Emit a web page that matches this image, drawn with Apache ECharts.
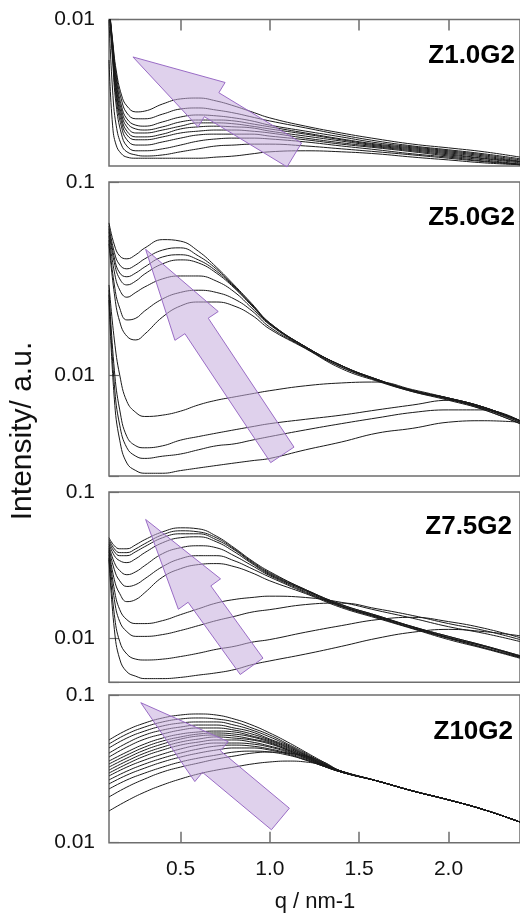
<!DOCTYPE html>
<html>
<head>
<meta charset="utf-8">
<script src="https://cdn.jsdelivr.net/npm/echarts@6/dist/echarts.min.js"></script>
<style>
  html, body { margin: 0; padding: 0; background: #fff; }
  #chart { width: 520px; height: 920px; }
</style>
</head>
<body>
<div id="chart"></div>
<script>
// q / nm-1 sampling for each panel
const qZ1 = [0.1, 0.12, 0.14, 0.17, 0.2, 0.25, 0.3, 0.4, 0.5, 0.6, 0.7, 0.8, 0.9, 1.0, 1.2, 1.4, 1.6, 1.8, 2.0, 2.2, 2.4];
const qZ5 = [0.1, 0.13, 0.16, 0.2, 0.25, 0.3, 0.4, 0.5, 0.6, 0.7, 0.8, 0.9, 1.0, 1.2, 1.4, 1.6, 1.8, 2.0, 2.2, 2.4];
const qZ75 = [0.1, 0.13, 0.16, 0.2, 0.25, 0.3, 0.4, 0.5, 0.6, 0.7, 0.8, 0.9, 1.0, 1.2, 1.4, 1.6, 1.8, 2.0, 2.2, 2.4];
const qZ10 = [0.1, 0.2, 0.3, 0.4, 0.5, 0.6, 0.7, 0.8, 0.9, 1.0, 1.1, 1.2, 1.3, 1.4, 1.6, 1.8, 2.0, 2.2, 2.4];

// Z1.0G2 intensities
const z1Curves = [
  [0.0126, 0.00724, 0.00452, 0.00305, 0.00257, 0.00234, 0.00237, 0.00265, 0.00287, 0.00291, 0.00278, 0.00257, 0.00234, 0.00213, 0.00187, 0.00168, 0.00153, 0.00141, 0.00133, 0.00125, 0.00115],
  [0.0126, 0.00702, 0.00425, 0.00282, 0.0023, 0.0021, 0.0021, 0.00226, 0.00245, 0.00249, 0.00241, 0.0023, 0.00216, 0.00203, 0.00182, 0.00163, 0.00148, 0.00137, 0.00129, 0.00121, 0.00112],
  [0.0126, 0.0068, 0.00399, 0.00257, 0.0021, 0.0019, 0.00187, 0.002, 0.00216, 0.00223, 0.0022, 0.00213, 0.00203, 0.0019, 0.00173, 0.00158, 0.00144, 0.00135, 0.00127, 0.00119, 0.0011],
  [0.0126, 0.00659, 0.00375, 0.00241, 0.00197, 0.00179, 0.00176, 0.00185, 0.002, 0.00206, 0.00206, 0.00203, 0.00194, 0.00185, 0.00168, 0.00153, 0.00141, 0.00133, 0.00125, 0.00117, 0.00108],
  [0.0126, 0.00639, 0.00352, 0.00226, 0.00185, 0.00168, 0.00168, 0.00176, 0.00187, 0.00197, 0.00197, 0.00194, 0.00187, 0.00179, 0.00165, 0.00151, 0.00139, 0.00131, 0.00123, 0.00115, 0.00107],
  [0.0126, 0.00619, 0.0033, 0.00213, 0.00173, 0.00158, 0.00158, 0.00165, 0.00179, 0.00185, 0.00187, 0.00185, 0.00182, 0.00173, 0.0016, 0.00148, 0.00137, 0.00129, 0.00121, 0.00113, 0.00107],
  [0.0126, 0.006, 0.0031, 0.002, 0.00163, 0.00151, 0.00151, 0.00158, 0.00168, 0.00173, 0.00176, 0.00176, 0.00173, 0.00168, 0.00155, 0.00144, 0.00135, 0.00127, 0.00119, 0.00112, 0.00105],
  [0.0126, 0.00572, 0.00291, 0.00185, 0.00151, 0.00139, 0.00139, 0.00146, 0.00155, 0.00163, 0.00165, 0.00165, 0.00165, 0.0016, 0.00151, 0.00141, 0.00133, 0.00125, 0.00117, 0.0011, 0.00103],
  [0.0126, 0.00529, 0.00261, 0.00165, 0.00137, 0.00127, 0.00127, 0.00131, 0.00139, 0.00148, 0.00153, 0.00155, 0.00155, 0.00153, 0.00146, 0.00137, 0.00129, 0.00121, 0.00115, 0.00108, 0.00103],
  [0.00992, 0.0033, 0.0019, 0.00139, 0.00125, 0.00119, 0.00117, 0.00119, 0.00125, 0.00131, 0.00137, 0.00139, 0.00141, 0.00141, 0.00137, 0.00131, 0.00125, 0.00119, 0.00113, 0.00107, 0.00102],
  [0.00529, 0.0019, 0.00139, 0.00121, 0.00115, 0.00113, 0.00113, 0.00113, 0.00113, 0.00113, 0.00115, 0.00117, 0.00121, 0.00125, 0.00127, 0.00125, 0.00121, 0.00115, 0.0011, 0.00105, 0.00102]
];

// Z5.0G2 intensities
const z5Curves = [
  [0.0614, 0.0472, 0.0414, 0.040, 0.042, 0.0455, 0.0503, 0.0494, 0.0438, 0.0363, 0.0293, 0.0234, 0.0186, 0.014, 0.0112, 0.0095, 0.0083, 0.0076, 0.0068, 0.0058],
  [0.0592, 0.0432, 0.0372, 0.0355, 0.0372, 0.040, 0.0444, 0.0456, 0.0414, 0.0355, 0.0289, 0.0231, 0.0186, 0.014, 0.0112, 0.0095, 0.0083, 0.0076, 0.0068, 0.0058],
  [0.0573, 0.0404, 0.0338, 0.0323, 0.0338, 0.0363, 0.0409, 0.042, 0.0395, 0.0346, 0.0286, 0.0231, 0.0184, 0.014, 0.0112, 0.0095, 0.0083, 0.0076, 0.0068, 0.0058],
  [0.0553, 0.0381, 0.0315, 0.0293, 0.0307, 0.0334, 0.0377, 0.0395, 0.0381, 0.0338, 0.0283, 0.0228, 0.0184, 0.014, 0.0112, 0.0094, 0.0083, 0.0075, 0.0067, 0.0057],
  [0.0527, 0.0342, 0.0276, 0.0253, 0.0268, 0.0286, 0.0315, 0.0326, 0.0326, 0.0307, 0.027, 0.0222, 0.0182, 0.0138, 0.011, 0.0094, 0.0083, 0.0075, 0.0067, 0.0057],
  [0.050, 0.0293, 0.0222, 0.0193, 0.0197, 0.0215, 0.0248, 0.0268, 0.0275, 0.0268, 0.0248, 0.0215, 0.0177, 0.0138, 0.011, 0.0094, 0.0082, 0.0075, 0.0066, 0.0056],
  [0.0478, 0.0264, 0.0189, 0.0159, 0.0152, 0.0163, 0.020, 0.0228, 0.0239, 0.0239, 0.0228, 0.0204, 0.0173, 0.0137, 0.0108, 0.0093, 0.0082, 0.0074, 0.0066, 0.0056],
  [0.0293, 0.0152, 0.010, 0.0073, 0.0064, 0.0061, 0.0062, 0.0065, 0.007, 0.0074, 0.0077, 0.008, 0.0083, 0.0088, 0.0091, 0.0092, 0.0084, 0.0076, 0.0068, 0.0058],
  [0.0276, 0.0106, 0.0066, 0.0048, 0.0043, 0.0042, 0.0043, 0.0046, 0.0048, 0.005, 0.0052, 0.0054, 0.0056, 0.0059, 0.0062, 0.0066, 0.007, 0.0074, 0.0067, 0.0058],
  [0.0261, 0.0089, 0.0055, 0.0042, 0.0038, 0.0037, 0.0038, 0.0039, 0.0041, 0.0043, 0.0044, 0.0046, 0.0048, 0.0052, 0.0056, 0.006, 0.0064, 0.0066, 0.0066, 0.0058],
  [0.0245, 0.0075, 0.0046, 0.0035, 0.0032, 0.0031, 0.0031, 0.0032, 0.0033, 0.0034, 0.0035, 0.0036, 0.0037, 0.0041, 0.0045, 0.005, 0.0053, 0.0057, 0.0058, 0.0057]
];

// Z7.5G2 intensities
const z75Curves = [
  [0.0487, 0.0429, 0.0409, 0.0409, 0.0436, 0.0472, 0.0534, 0.0569, 0.056, 0.05, 0.0416, 0.0339, 0.0285, 0.0215, 0.017, 0.0143, 0.012, 0.0103, 0.0089, 0.0076],
  [0.0472, 0.0409, 0.0385, 0.0385, 0.0409, 0.0443, 0.051, 0.0543, 0.0534, 0.0487, 0.0409, 0.0334, 0.028, 0.0215, 0.017, 0.0143, 0.012, 0.0103, 0.0089, 0.0076],
  [0.0457, 0.0391, 0.0367, 0.0367, 0.0391, 0.0423, 0.0487, 0.0518, 0.0518, 0.0472, 0.0403, 0.0329, 0.0276, 0.0212, 0.0167, 0.0141, 0.0119, 0.0101, 0.0088, 0.0075],
  [0.0443, 0.0367, 0.0339, 0.0329, 0.035, 0.0385, 0.045, 0.0487, 0.0494, 0.0457, 0.0391, 0.0324, 0.0272, 0.0212, 0.0167, 0.0141, 0.0119, 0.0101, 0.0088, 0.0075],
  [0.0429, 0.0329, 0.029, 0.0272, 0.0285, 0.0314, 0.0379, 0.0416, 0.0429, 0.0416, 0.0367, 0.0314, 0.0268, 0.0208, 0.0165, 0.0139, 0.0117, 0.01, 0.0086, 0.0074],
  [0.0416, 0.0294, 0.0247, 0.0226, 0.0233, 0.0255, 0.0309, 0.035, 0.0367, 0.0367, 0.0339, 0.0299, 0.0262, 0.0205, 0.0165, 0.0139, 0.0117, 0.01, 0.0086, 0.0074],
  [0.0403, 0.0251, 0.0202, 0.0178, 0.0184, 0.0205, 0.0262, 0.0299, 0.0319, 0.0324, 0.0309, 0.028, 0.0247, 0.0202, 0.0162, 0.0137, 0.0116, 0.0098, 0.0085, 0.0073],
  [0.0391, 0.0215, 0.0157, 0.0134, 0.0126, 0.0126, 0.0132, 0.0145, 0.0159, 0.0174, 0.0184, 0.019, 0.0194, 0.019, 0.0176, 0.0155, 0.0137, 0.012, 0.0108, 0.0095],
  [0.0373, 0.0184, 0.013, 0.0111, 0.0103, 0.0103, 0.0106, 0.0113, 0.0122, 0.0132, 0.0141, 0.0151, 0.0157, 0.017, 0.0174, 0.0159, 0.0143, 0.0126, 0.0113, 0.0098],
  [0.0355, 0.0145, 0.0095, 0.0078, 0.0072, 0.0071, 0.0072, 0.0075, 0.0079, 0.0084, 0.0088, 0.0094, 0.0098, 0.011, 0.0122, 0.0134, 0.0139, 0.013, 0.0117, 0.0101],
  [0.0345, 0.0115, 0.0072, 0.0059, 0.0055, 0.0053, 0.0053, 0.0054, 0.0056, 0.0058, 0.0061, 0.0066, 0.007, 0.0078, 0.0088, 0.01, 0.011, 0.0115, 0.0111, 0.0104]
];

// Z10G2 intensities
const z10Curves = [
  [0.0496, 0.0579, 0.0646, 0.0699, 0.0732, 0.0744, 0.0732, 0.0688, 0.0626, 0.0553, 0.048, 0.0411, 0.0352, 0.0305, 0.0262, 0.0224, 0.0195, 0.0167, 0.0138],
  [0.0466, 0.0544, 0.0607, 0.0657, 0.0688, 0.0699, 0.0688, 0.0657, 0.0598, 0.0536, 0.0466, 0.0404, 0.0346, 0.0305, 0.0262, 0.0224, 0.0195, 0.0167, 0.0138],
  [0.0438, 0.0511, 0.057, 0.0617, 0.0646, 0.0657, 0.0657, 0.0626, 0.0579, 0.052, 0.0458, 0.0398, 0.0346, 0.0305, 0.0262, 0.0224, 0.0195, 0.0167, 0.0138],
  [0.0404, 0.0473, 0.0536, 0.0579, 0.0607, 0.0626, 0.0626, 0.0598, 0.0562, 0.0503, 0.0451, 0.0392, 0.0341, 0.0305, 0.0262, 0.0224, 0.0195, 0.0167, 0.0138],
  [0.038, 0.0444, 0.0503, 0.0544, 0.0579, 0.0598, 0.0598, 0.0579, 0.0544, 0.0496, 0.0444, 0.0392, 0.0341, 0.0305, 0.0262, 0.0224, 0.0195, 0.0167, 0.0138],
  [0.0357, 0.0411, 0.0466, 0.0511, 0.0544, 0.0562, 0.057, 0.0562, 0.0528, 0.0488, 0.0438, 0.0386, 0.0341, 0.0301, 0.0262, 0.0224, 0.0195, 0.0167, 0.0138],
  [0.0341, 0.0392, 0.0444, 0.0488, 0.052, 0.0544, 0.0553, 0.0544, 0.052, 0.048, 0.0431, 0.0386, 0.0335, 0.0301, 0.0262, 0.0224, 0.0195, 0.0167, 0.0138],
  [0.0325, 0.0374, 0.0424, 0.0466, 0.0503, 0.0528, 0.0536, 0.0528, 0.0503, 0.0473, 0.0424, 0.038, 0.0335, 0.0301, 0.0262, 0.0224, 0.0195, 0.0167, 0.0138],
  [0.031, 0.0357, 0.0404, 0.0444, 0.048, 0.0503, 0.052, 0.0511, 0.0496, 0.0466, 0.0424, 0.038, 0.0335, 0.0301, 0.0262, 0.0224, 0.0195, 0.0167, 0.0138],
  [0.0296, 0.0341, 0.0386, 0.0424, 0.0458, 0.048, 0.0496, 0.0496, 0.048, 0.0451, 0.0417, 0.0374, 0.0335, 0.0301, 0.0262, 0.0224, 0.0195, 0.0167, 0.0138],
  [0.0283, 0.0325, 0.0363, 0.0398, 0.0431, 0.0458, 0.0473, 0.0473, 0.0466, 0.0444, 0.0411, 0.0374, 0.033, 0.0301, 0.0262, 0.0224, 0.0195, 0.0167, 0.0138],
  [0.0266, 0.0305, 0.0341, 0.0374, 0.0404, 0.0431, 0.0451, 0.0458, 0.0451, 0.0431, 0.0404, 0.0368, 0.033, 0.0301, 0.0262, 0.0224, 0.0195, 0.0167, 0.0138],
  [0.025, 0.0287, 0.032, 0.0352, 0.038, 0.0404, 0.0424, 0.0438, 0.0438, 0.0424, 0.0398, 0.0363, 0.033, 0.0301, 0.0262, 0.0224, 0.0195, 0.0167, 0.0138],
  [0.0231, 0.0266, 0.0296, 0.0325, 0.0352, 0.0374, 0.0392, 0.0411, 0.0417, 0.0411, 0.0392, 0.0363, 0.033, 0.0301, 0.0262, 0.0224, 0.0195, 0.0167, 0.0138],
  [0.0204, 0.0238, 0.027, 0.0301, 0.0325, 0.0346, 0.0368, 0.0386, 0.0404, 0.0411, 0.0404, 0.0386, 0.0352, 0.0305, 0.0262, 0.0224, 0.0195, 0.0167, 0.0138],
  [0.0164, 0.0192, 0.022, 0.0246, 0.027, 0.0292, 0.031, 0.0325, 0.0341, 0.0352, 0.0357, 0.0352, 0.0335, 0.0305, 0.0262, 0.0224, 0.0195, 0.0167, 0.0138]
];

// arrows: [tail q, tail I, tip q, tip I]
const arrowZ1 = [1.137, 0.00119, 0.234, 0.00555];
const arrowZ5 = [1.07, 0.00386, 0.305, 0.0448];
const arrowZ75 = [0.898, 0.00643, 0.305, 0.0649];
const arrowZ10 = [1.059, 0.01447, 0.278, 0.0887];

const xTicks = [0.5, 1.0, 1.5, 2.0];
const sampleNames = ["Z1.0G2", "Z5.0G2", "Z7.5G2", "Z10G2"];

const FONT = '"Liberation Sans", Arial, sans-serif';

// layout of the four stacked panels
const panels = [
  { q: qZ1, curves: z1Curves, arrow: arrowZ1, min: 0.001, max: 0.01, top: 19.5, height: 146.5, labelY: 56, labelX: 515 },
  { q: qZ5, curves: z5Curves, arrow: arrowZ5, min: 0.003, max: 0.1, top: 182, height: 294, labelY: 218, labelX: 515 },
  { q: qZ75, curves: z75Curves, arrow: arrowZ75, min: 0.005, max: 0.1, top: 492, height: 190.3, labelY: 527, labelX: 512 },
  { q: qZ10, curves: z10Curves, arrow: arrowZ10, min: 0.01, max: 0.1, top: 695, height: 147.7, labelY: 732, labelX: 513 }
];

function decadeLabel(v) {
  let l = Math.log10(v);
  if (Math.abs(l - Math.round(l)) > 1e-6) return "";
  return String(Number(v.toPrecision(1)));
}

// arrow drawn in pixel space between two data points
function renderArrow(params, api) {
  let a = api.coord([api.value(0), api.value(1)]);
  let b = api.coord([api.value(2), api.value(3)]);
  let dx = b[0] - a[0], dy = b[1] - a[1];
  let len = Math.sqrt(dx * dx + dy * dy);
  let ux = dx / len, uy = dy / len;
  let nx = -uy, ny = ux;
  let hs = 14, hh = 26, hl = 92;
  let bx = b[0] - ux * hl, by = b[1] - uy * hl;
  let pts = [
    [a[0] + nx * hs, a[1] + ny * hs],
    [bx + nx * hs, by + ny * hs],
    [bx + nx * hh, by + ny * hh],
    [b[0], b[1]],
    [bx - nx * hh, by - ny * hh],
    [bx - nx * hs, by - ny * hs],
    [a[0] - nx * hs, a[1] - ny * hs]
  ];
  return {
    type: "polygon",
    shape: { points: pts },
    style: { fill: "rgba(196,172,220,0.55)", stroke: "#9a6cc6", lineWidth: 1 }
  };
}

let grids = [], xAxes = [], yAxes = [], series = [], texts = [];
panels.forEach(function (p, i) {
  grids.push({
    left: 109, right: -1, top: p.top, height: p.height,
    show: true, borderColor: "#6e6e6e", borderWidth: 1.5, backgroundColor: "transparent"
  });
  xAxes.push({
    type: "value", gridIndex: i, min: 0.1, max: 2.4,
    position: i === 0 ? "top" : "bottom",
    axisLine: { show: false },
    splitLine: { show: false },
    axisTick: {
      show: i === 0 || i === 3, inside: true, length: 11, customValues: xTicks,
      lineStyle: { color: "#6e6e6e", width: 1.5 }
    },
    axisLabel: {
      show: i === 3, customValues: xTicks, margin: 16,
      fontSize: 21, fontFamily: FONT, color: "#111",
      formatter: function (v) { return v.toFixed(1); }
    }
  });
  yAxes.push({
    type: "log", logBase: 10, gridIndex: i, min: p.min, max: p.max,
    axisLine: { show: false },
    splitLine: { show: false },
    minorTick: { show: false },
    axisTick: { inside: true, length: 10, lineStyle: { color: "#6e6e6e", width: 1.2 } },
    axisLabel: {
      margin: 14, fontSize: 21, fontFamily: FONT, color: "#111",
      showMinLabel: i !== 0,
      formatter: decadeLabel
    }
  });
  p.curves.forEach(function (c) {
    series.push({
      type: "line", xAxisIndex: i, yAxisIndex: i,
      data: p.q.map(function (x, k) { return [x, c[k]]; }),
      symbol: "none", smooth: 0.45, silent: true, clip: true,
      lineStyle: { color: "#1a1a1a", width: 1 },
      z: 2
    });
  });
  series.push({
    type: "custom", xAxisIndex: i, yAxisIndex: i,
    data: [p.arrow], encode: { x: [0, 2], y: [1, 3] },
    renderItem: renderArrow, silent: true, z: 5
  });
  texts.push({
    type: "text", x: p.labelX, y: p.labelY, z: 10,
    style: { text: sampleNames[i], font: "bold 26px " + FONT, fill: "#000", align: "right", verticalAlign: "middle" }
  });
});

texts.push({
  type: "text", x: 23, y: 431, rotation: Math.PI / 2,
  style: { text: "Intensity/ a.u.", font: "30px " + FONT, fill: "#111", align: "center", verticalAlign: "middle" }
});
texts.push({
  type: "text", x: 315, y: 902,
  style: { text: "q / nm-1", font: "22px " + FONT, fill: "#111", align: "center", verticalAlign: "middle" }
});

let myChart = echarts.init(document.getElementById("chart"), null, { renderer: "canvas" });
myChart.setOption({
  backgroundColor: "#fff",
  animation: false,
  grid: grids,
  xAxis: xAxes,
  yAxis: yAxes,
  series: series,
  graphic: texts
});
</script>
</body>
</html>
